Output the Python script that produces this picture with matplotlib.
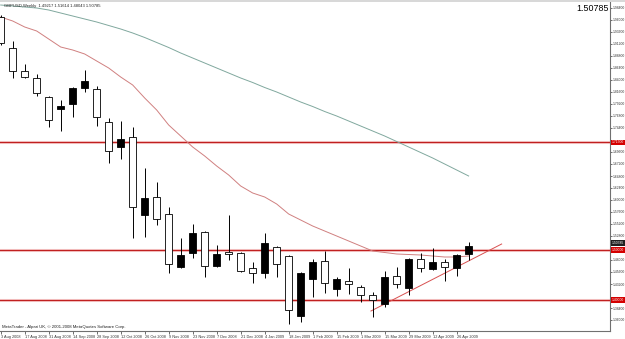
#!/usr/bin/env python3
"""GBPUSD weekly candlestick chart, MetaTrader style."""

import matplotlib

matplotlib.use("Agg")
import matplotlib.pyplot as plt
from matplotlib.patches import Rectangle
from matplotlib.transforms import blended_transform_factory

HEADER = "GBPUSD,Weekly  1.49217 1.51614 1.48043 1.50785"
FOOTER = "MetaTrader - Alpari UK, \u00a9 2001-2008 MetaQuotes Software Corp."
LAST_PRICE = 1.50785

DATE_LABELS = [
    "3 Aug 2008", "17 Aug 2008", "31 Aug 2008", "14 Sep 2008", "28 Sep 2008",
    "12 Oct 2008", "26 Oct 2008", "9 Nov 2008", "23 Nov 2008", "7 Dec 2008",
    "21 Dec 2008", "4 Jan 2009", "18 Jan 2009", "1 Feb 2009", "15 Feb 2009",
    "1 Mar 2009", "15 Mar 2009", "29 Mar 2009", "12 Apr 2009", "26 Apr 2009",
]

OPEN = [1.966, 1.904, 1.858, 1.844, 1.806, 1.782, 1.792, 1.824, 1.822, 1.756,
        1.706, 1.726, 1.570, 1.606, 1.572, 1.466, 1.494, 1.536, 1.468, 1.496,
        1.494, 1.464, 1.454, 1.506, 1.488, 1.368, 1.442, 1.478, 1.422, 1.438,
        1.426, 1.410, 1.392, 1.448, 1.424, 1.482, 1.462, 1.476, 1.464, 1.49217]
HIGH = [1.970, 1.918, 1.872, 1.852, 1.807, 1.800, 1.826, 1.860, 1.828, 1.764,
        1.758, 1.746, 1.664, 1.636, 1.586, 1.524, 1.552, 1.538, 1.510, 1.570,
        1.496, 1.476, 1.534, 1.508, 1.490, 1.456, 1.482, 1.498, 1.446, 1.464,
        1.430, 1.416, 1.458, 1.466, 1.484, 1.494, 1.504, 1.482, 1.492, 1.51614]
LOW = [1.910, 1.844, 1.844, 1.808, 1.746, 1.738, 1.766, 1.816, 1.748, 1.674,
       1.682, 1.524, 1.526, 1.550, 1.454, 1.464, 1.484, 1.446, 1.466, 1.480,
       1.456, 1.434, 1.444, 1.446, 1.352, 1.356, 1.406, 1.414, 1.408, 1.412,
       1.396, 1.366, 1.386, 1.424, 1.410, 1.456, 1.460, 1.438, 1.448, 1.48043]
CLOSE = [1.914, 1.858, 1.846, 1.814, 1.760, 1.788, 1.824, 1.838, 1.766, 1.698,
         1.722, 1.586, 1.604, 1.562, 1.472, 1.490, 1.534, 1.468, 1.492, 1.492,
         1.458, 1.454, 1.514, 1.472, 1.380, 1.454, 1.476, 1.434, 1.442, 1.432,
         1.410, 1.400, 1.446, 1.432, 1.482, 1.464, 1.476, 1.466, 1.490, 1.50785]

MA_FAST = [1.966, 1.958, 1.946, 1.938, 1.922, 1.906, 1.900, 1.892, 1.878, 1.864,
           1.846, 1.830, 1.804, 1.780, 1.750, 1.728, 1.706, 1.688, 1.668, 1.650,
           1.628, 1.614, 1.606, 1.592, 1.572, 1.560, 1.548, 1.538, 1.528, 1.518,
           1.508, 1.498, 1.495, 1.492, 1.491, 1.490, 1.488, 1.486, 1.486, 1.488]
MA_SLOW = [1.990, 1.988, 1.986, 1.984, 1.980, 1.974, 1.968, 1.962, 1.956, 1.949,
           1.942, 1.934, 1.925, 1.915, 1.905, 1.894, 1.884, 1.874, 1.864, 1.854,
           1.844, 1.835, 1.825, 1.816, 1.806, 1.796, 1.787, 1.777, 1.768, 1.758,
           1.748, 1.738, 1.728, 1.717, 1.706, 1.695, 1.684, 1.672, 1.660, 1.648]

LEVELS = [1.71500, 1.50000, 1.40000]
TREND_X = [30.86, 41.75]
TREND_Y = [1.378, 1.512]

PRICE_TICKS = [1.98400, 1.96000, 1.93600, 1.91200, 1.88800, 1.86400, 1.84000,
               1.81600, 1.79200, 1.76800, 1.74400, 1.69600, 1.67200, 1.64800,
               1.62400, 1.60000, 1.57600, 1.55200, 1.52800, 1.48000, 1.45600,
               1.43200, 1.38400, 1.36000]

FONT = "Liberation Sans"


def main() -> None:
    fig = plt.figure(figsize=(6.25, 3.39), dpi=100)
    fig.patch.set_facecolor("white")
    ax = fig.add_axes([0.0, 8 / 339, 610 / 625, 329 / 339])
    ax.set_facecolor("white")

    n = len(OPEN)
    ax.set_xlim(-0.058, 50.78)
    ax.set_ylim(1.338, 1.996)

    for lvl in LEVELS:
        ax.axhline(lvl, color="#f4c4c4", linewidth=2.2, zorder=1)
        ax.axhline(lvl, color="#c02020", linewidth=0.8, zorder=1.5)

    ax.plot(range(n), MA_SLOW, color="#80a89e", linewidth=0.7, zorder=2)
    ax.plot(range(n), MA_FAST, color="#d08080", linewidth=0.7, zorder=2)
    ax.plot(TREND_X, TREND_Y, color="#d85050", linewidth=0.7, zorder=2)

    for i in range(n):
        o, h, l, c = OPEN[i], HIGH[i], LOW[i], CLOSE[i]
        ax.vlines(i, l, h, color="black", linewidth=0.7, zorder=3)
        bottom = min(o, c)
        height = max(abs(c - o), 0.0012)
        face = "black" if c > o else "white"
        ax.add_patch(Rectangle((i - 0.3, bottom), 0.6, height, facecolor=face,
                               edgecolor="black", linewidth=0.6, zorder=4))

    # axes frame: only right and bottom like the terminal
    for side in ["top", "left"]:
        ax.spines[side].set_visible(False)
    for side in ["right", "bottom"]:
        ax.spines[side].set_color("#707070")
        ax.spines[side].set_linewidth(0.8)

    ax.yaxis.tick_right()
    ax.set_yticks(PRICE_TICKS)
    ax.set_yticklabels([f"{p:.5f}" for p in PRICE_TICKS], fontsize=2.45,
                       family=FONT, color="#222222")
    ax.tick_params(axis="y", length=1.3, width=0.5, pad=0.5, colors="#333333")

    ax.set_xticks(range(0, n, 2))
    ax.set_xticklabels(DATE_LABELS, fontsize=2.8, family=FONT, ha="left",
                       color="#222222")
    ax.tick_params(axis="x", length=2.5, width=0.5, pad=0.3, colors="#333333")

    trans = blended_transform_factory(ax.transAxes, ax.transData)
    for lvl in LEVELS:
        ax.text(1.0035, lvl, f"{lvl:.5f}", transform=trans, fontsize=2.45,
                family=FONT, color="white", ha="left", va="center",
                clip_on=False, zorder=6,
                bbox=dict(boxstyle="square,pad=0.2", fc="#d40000", ec="none"))
    ax.text(1.0035, LAST_PRICE + 0.006, f"{LAST_PRICE:.5f}", transform=trans,
            fontsize=2.45, family=FONT, color="white", ha="left", va="center",
            clip_on=False, zorder=7,
            bbox=dict(boxstyle="square,pad=0.2", fc="#202020", ec="none"))

    ax.text(0.998, 0.995, f"{LAST_PRICE:.5f}", transform=ax.transAxes,
            fontsize=6.4, family=FONT, ha="right", va="top", color="black")
    ax.text(0.006, 0.993, HEADER, transform=ax.transAxes, fontsize=3.0,
            family=FONT, ha="left", va="top", color="#222222")
    ax.text(0.004, 0.006, FOOTER, transform=ax.transAxes, fontsize=3.1,
            family=FONT, ha="left", va="bottom", color="#222222")

    fig.add_artist(Rectangle((0, 1 - 2 / 339), 1, 2 / 339, transform=fig.transFigure,
                             facecolor="#d8d8d8", edgecolor="none"))

    fig.savefig("out.png", dpi=100)
    plt.close(fig)


if __name__ == "__main__":
    main()
